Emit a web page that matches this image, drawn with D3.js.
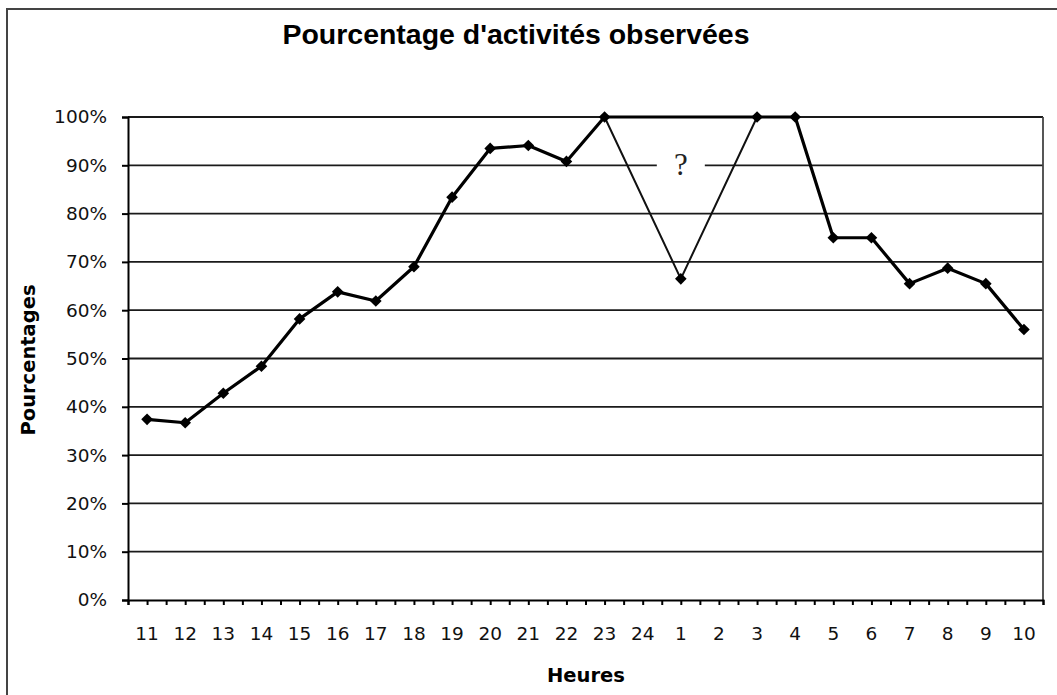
<!DOCTYPE html>
<html>
<head>
<meta charset="utf-8">
<script src="https://cdn.jsdelivr.net/npm/d3@7"></script>
<style>
  body { margin: 0; background: #fff; }
  svg { display: block; }
</style>
</head>
<body>
<div id="grafico"></div>
<script>
const width = 1057
const height = 695

// heures observées (de 11h à 10h le lendemain)
const heures = ['11','12','13','14','15','16','17','18','19','20','21','22','23','24','1','2','3','4','5','6','7','8','9','10']
// pourcentages observés (null = pas de donnée)
const pourcentages = [37.4, 36.7, 42.8, 48.4, 58.2, 63.8, 61.9, 69.0, 83.4, 93.5, 94.1, 90.8, 100, null, null, null, 100, 100, 75, 75, 65.5, 68.7, 65.5, 56.0]
// hypothèse pour la nuit (le "?")
const heuresHypothese = ['23', '1', '3']
const valeursHypothese = [100, 66.5, 100]
const yTicks = [0, 10, 20, 30, 40, 50, 60, 70, 80, 90, 100]

const titre = "Pourcentage d'activités observées"
const titreX = 'Heures'
const titreY = 'Pourcentages'

const margin = {left: 128, right: 1043, top: 117, bottom: 600}

const svg = d3.select('#grafico').append('svg')
              .attr('width', width)
              .attr('height', height)

// cadre extérieur
svg.append('rect')
   .attr('x', 7).attr('y', 9)
   .attr('width', 1200).attr('height', 900)
   .attr('fill', 'none')
   .attr('stroke', '#444')
   .attr('stroke-width', 2)

const x = d3.scaleBand()
            .domain(heures)
            .range([margin.left, margin.right])
            .padding(0)
const cx = h => x(h) + x.bandwidth() / 2

const y = d3.scaleLinear()
            .domain([0, 100])
            .range([margin.bottom, margin.top])

// grille
svg.append('g')
   .selectAll('line')
   .data(yTicks.filter(d => d > 0))
   .enter()
   .append('line')
   .attr('x1', margin.left).attr('x2', margin.right)
   .attr('y1', d => y(d)).attr('y2', d => y(d))
   .attr('stroke', '#1a1a1a')
   .attr('stroke-width', 1.8)

// bord droit de la zone de tracé
svg.append('line')
   .attr('x1', margin.right).attr('x2', margin.right)
   .attr('y1', margin.top).attr('y2', margin.bottom)
   .attr('stroke', '#444')
   .attr('stroke-width', 1.8)

// cache blanc derrière le "?"
const posQ = cx('1')
svg.append('rect')
   .attr('x', posQ - 24).attr('y', y(90) - 5)
   .attr('width', 48).attr('height', 10)
   .attr('fill', '#fff')

// axe Y
const axeY = svg.append('g')
   .attr('transform', `translate(${margin.left},0)`)
   .call(d3.axisLeft(y).tickValues(yTicks).tickSize(6).tickPadding(15).tickFormat(d => d + '%'))
axeY.select('.domain').attr('stroke', '#000').attr('stroke-width', 2)
axeY.selectAll('.tick line').attr('stroke', '#000').attr('stroke-width', 2)
axeY.selectAll('text')
    .attr('font-family', 'DejaVu Sans')
    .attr('font-size', 18.5)
    .attr('fill', '#111')

// axe X
const xDemi = d3.scaleLinear().domain([0, heures.length]).range([margin.left, margin.right])
const axeX = svg.append('g')
   .attr('transform', `translate(0,${margin.bottom})`)
axeX.call(d3.axisBottom(xDemi).tickValues(d3.range(0, heures.length * 2 + 1).map(i => i / 2)).tickSize(5).tickFormat(''))
axeX.select('.domain').attr('stroke', '#000').attr('stroke-width', 2)
axeX.selectAll('.tick line').attr('stroke', '#000').attr('stroke-width', 2)

const labelsX = svg.append('g')
   .attr('transform', `translate(0,${margin.bottom})`)
   .call(d3.axisBottom(x).tickSize(0).tickPadding(27))
labelsX.select('.domain').remove()
labelsX.selectAll('text')
   .attr('font-family', 'DejaVu Sans')
   .attr('font-size', 18.5)
   .attr('fill', '#111')

// ligne hypothèse (fine)
const ligne = d3.line().x(d => cx(d.h)).y(d => y(d.v))
const hypo = heuresHypothese.map((h, i) => ({h: h, v: valeursHypothese[i]}))
svg.append('path')
   .datum(hypo)
   .attr('d', ligne)
   .attr('fill', 'none')
   .attr('stroke', '#111')
   .attr('stroke-width', 2)
   .attr('stroke-linejoin', 'round')

// série principale (relie les points au-dessus des trous)
const serie = heures.map((h, i) => ({h: h, v: pourcentages[i]})).filter(d => d.v !== null)
svg.append('path')
   .datum(serie)
   .attr('d', ligne)
   .attr('fill', 'none')
   .attr('stroke', '#000')
   .attr('stroke-width', 3.2)
   .attr('stroke-linejoin', 'round')

const losange = d3.symbol().type(d3.symbolSquare).size(68)
svg.append('g')
   .selectAll('path')
   .data(serie.concat(hypo.filter(d => d.h === '1')))
   .enter()
   .append('path')
   .attr('d', losange)
   .attr('transform', d => `translate(${cx(d.h)},${y(d.v)}) rotate(45)`)
   .attr('fill', '#000')

// le "?"
svg.append('text')
   .attr('x', posQ)
   .attr('y', y(90) + 10)
   .attr('text-anchor', 'middle')
   .attr('font-family', 'Liberation Serif')
   .attr('font-size', 31)
   .attr('fill', '#222')
   .text('?')

// titres
svg.append('text')
   .attr('x', 516)
   .attr('y', 44)
   .attr('text-anchor', 'middle')
   .attr('font-family', 'Liberation Sans')
   .attr('font-weight', 'bold')
   .attr('font-size', 27)
   .attr('textLength', 467)
   .attr('lengthAdjust', 'spacingAndGlyphs')
   .text(titre)

svg.append('text')
   .attr('x', 586)
   .attr('y', 682)
   .attr('text-anchor', 'middle')
   .attr('font-family', 'DejaVu Sans')
   .attr('font-weight', 'bold')
   .attr('font-size', 19.5)
   .text(titreX)

svg.append('text')
   .attr('transform', 'translate(35,360) rotate(-90)')
   .attr('text-anchor', 'middle')
   .attr('font-family', 'DejaVu Sans')
   .attr('font-weight', 'bold')
   .attr('font-size', 19.5)
   .text(titreY)
</script>
</body>
</html>
